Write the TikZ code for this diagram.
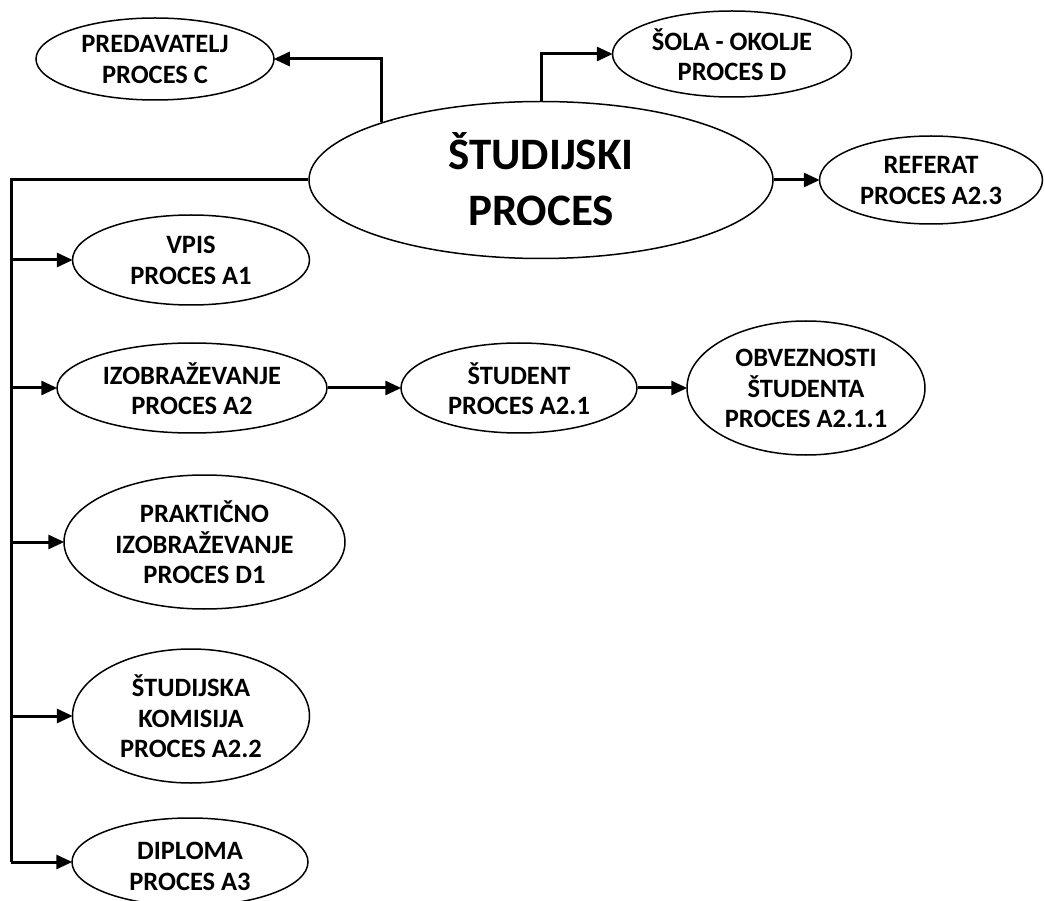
\documentclass[tikz,border=0pt]{standalone}
\usepackage{fontspec}
\setmainfont{Carlito}
\usetikzlibrary{shapes.geometric,arrows.meta}
\tikzset{
  proc/.style={draw=black, line width=1.5pt, ellipse, inner sep=0pt, fill=white},
  lbl/.style={align=center, inner sep=0pt, yshift=-5pt, font=\fontsize{26.5}{30.5}\selectfont\bfseries,
    execute at begin node=\strut, execute at end node=\strut},
  biglbl/.style={align=center, inner sep=0pt, yshift=-7pt, font=\fontsize{45}{56}\selectfont\bfseries,
    execute at begin node=\strut, execute at end node=\strut},
  conn/.style={line width=3pt},
  arr/.style={line width=3pt, -{Triangle[length=16pt,width=14pt]}, shorten >=-1pt},
}
\begin{document}
\begin{tikzpicture}[x=1pt,y=-1pt]
\useasboundingbox[fill=white] (0,0) rectangle (1045,901);

% ellipses
\node[proc, minimum width=238pt, minimum height=82pt] (pred) at (155,59) {};
\node[proc, minimum width=239pt, minimum height=86pt] (sola) at (732,54) {};
\node[proc, minimum width=464pt, minimum height=157pt] (main) at (541,180) {};
\node[proc, minimum width=223pt, minimum height=88pt] (ref) at (931,180) {};
\node[proc, minimum width=237pt, minimum height=90pt] (vpis) at (191,260) {};
\node[proc, minimum width=270pt, minimum height=90pt] (izob) at (192,388) {};
\node[proc, minimum width=236pt, minimum height=90pt] (stud) at (519,388) {};
\node[proc, minimum width=238pt, minimum height=134pt] (obv) at (806,388) {};
\node[proc, minimum width=281pt, minimum height=134pt] (prakt) at (204.5,542) {};
\node[proc, minimum width=237pt, minimum height=134pt] (stkom) at (191,716) {};
\node[proc, minimum width=236pt, minimum height=88pt] (dipl) at (190,862) {};

% texts
\node[lbl] (pred-t) at (pred) {PREDAVATELJ\\PROCES C};
\node[lbl] (sola-t) at (sola) {ŠOLA - OKOLJE\\PROCES D};
\node[biglbl] (main-t) at (main) {ŠTUDIJSKI\\PROCES};
\node[lbl] (ref-t) at (ref) {REFERAT\\PROCES A2.3};
\node[lbl] (vpis-t) at (vpis) {VPIS\\PROCES A1};
\node[lbl] (izob-t) at (izob) {IZOBRAŽEVANJE\\PROCES A2};
\node[lbl] (stud-t) at (stud) {ŠTUDENT\\PROCES A2.1};
\node[lbl] (obv-t) at (obv) {OBVEZNOSTI\\ŠTUDENTA\\PROCES A2.1.1};
\node[lbl] (prakt-t) at (prakt) {PRAKTIČNO\\IZOBRAŽEVANJE\\PROCES D1};
\node[lbl] (stkom-t) at (stkom) {ŠTUDIJSKA\\KOMISIJA\\PROCES A2.2};
\node[lbl, yshift=-4pt] (dipl-t) at (dipl) {DIPLOMA\\PROCES A3};

% trunk
\coordinate (ttop) at (11,180);
\coordinate (tbot) at (11,862);
\draw[conn] (main.west) -- (ttop) -- (tbot);

% connectors
\draw[arr] (main.160.7) |- (pred.east);
\draw[arr] (main.north) |- (sola.west);
\draw[arr] (main.east) -- (ref.west);
\draw[arr] (ttop |- vpis) -- (vpis.west);
\draw[arr] (ttop |- izob) -- (izob.west);
\draw[arr] (ttop |- prakt) -- (prakt.west);
\draw[arr] (ttop |- stkom) -- (stkom.west);
\draw[arr] (tbot) -- (dipl.west);
\draw[arr] (izob.east) -- (stud.west);
\draw[arr] (stud.east) -- (obv.west);
\end{tikzpicture}
\end{document}
